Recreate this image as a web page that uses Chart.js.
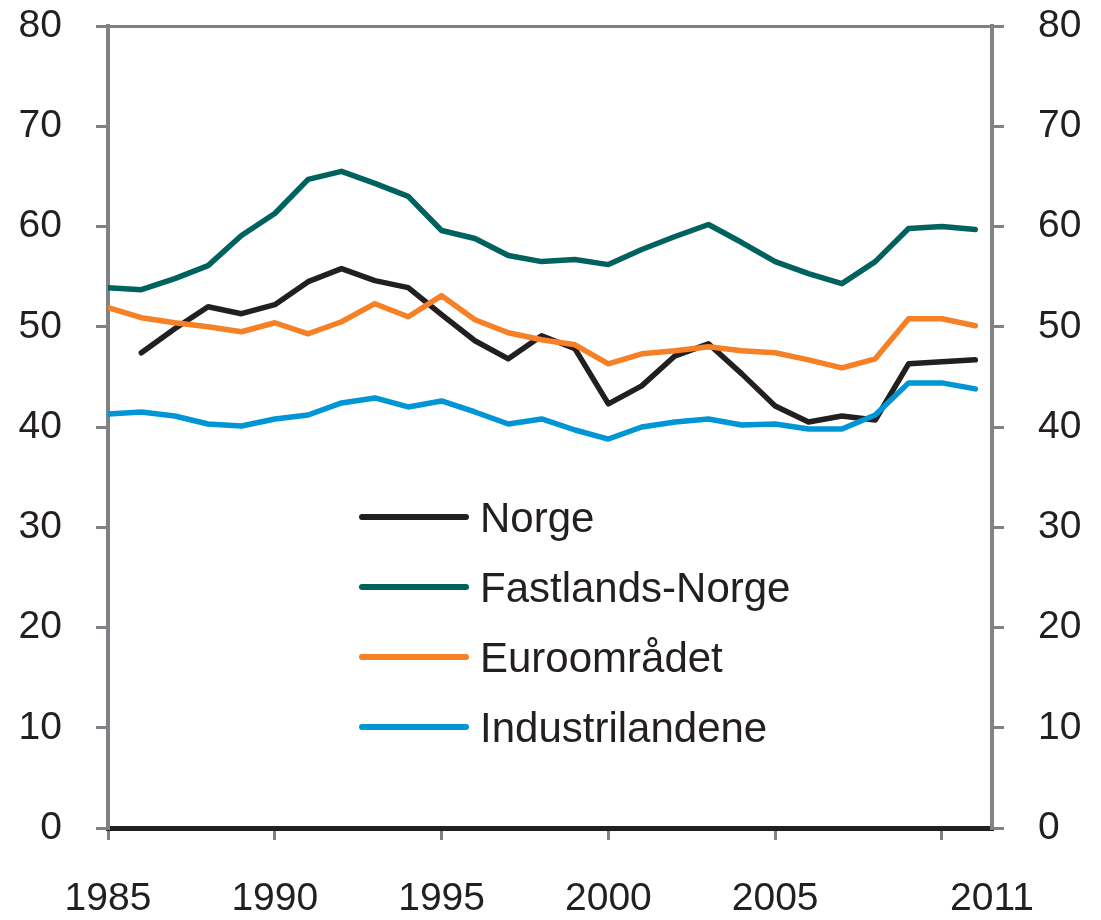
<!DOCTYPE html>
<html>
<head>
<meta charset="utf-8">
<script src="https://cdn.jsdelivr.net/npm/chart.js@4.4.1/dist/chart.umd.min.js"></script>
<style>
    body { margin: 0; background: #fff; }
</style>
</head>
<body>
<canvas id="grafico" width="1101" height="920"></canvas>
<script>
// Data
const anos = [1985, 1986, 1987, 1988, 1989, 1990, 1991, 1992, 1993, 1994, 1995, 1996, 1997, 1998,
    1999, 2000, 2001, 2002, 2003, 2004, 2005, 2006, 2007, 2008, 2009, 2010, 2011];
const norge = [null, 47.4, 49.8, 52.0, 51.3, 52.2, 54.5, 55.8, 54.6, 53.9, 51.2, 48.6, 46.8, 49.1,
    47.8, 42.3, 44.1, 47.1, 48.3, 45.3, 42.1, 40.5, 41.1, 40.7, 46.3, 46.5, 46.7];
const fastland = [53.9, 53.7, 54.8, 56.1, 59.1, 61.3, 64.7, 65.5, 64.3, 63.0, 59.6, 58.8, 57.1, 56.5,
    56.7, 56.2, 57.7, 59.0, 60.2, 58.4, 56.5, 55.3, 54.3, 56.5, 59.8, 60.0, 59.7];
const euro = [51.9, 50.9, 50.4, 50.0, 49.5, 50.4, 49.3, 50.5, 52.3, 51.0, 53.1, 50.7, 49.4, 48.7,
    48.2, 46.3, 47.3, 47.6, 48.0, 47.6, 47.4, 46.7, 45.9, 46.8, 50.8, 50.8, 50.1];
const industri = [41.3, 41.5, 41.1, 40.3, 40.1, 40.8, 41.2, 42.4, 42.9, 42.0, 42.6, 41.5, 40.3, 40.8,
    39.7, 38.8, 40.0, 40.5, 40.8, 40.2, 40.3, 39.8, 39.8, 41.2, 44.4, 44.4, 43.8];
const yTicks = [0, 10, 20, 30, 40, 50, 60, 70, 80];
const xTicks = [1985, 1990, 1995, 2000, 2005, 2010, 2011.5];
const xTickLabels = ['1985', '1990', '1995', '2000', '2005', '', '2011'];

const cinza = '#808184';
const texto = '#231f20';
const fonteEixo = { family: 'Liberation Sans', size: 39 };

function pontos(valores) {
    return anos.map(function (ano, i) {
        return { x: ano, y: valores[i] };
    });
}

// sem padding extra por causa dos rotulos
function semPadding(s) {
    s.paddingTop = 0;
    s.paddingBottom = 0;
    s.paddingLeft = 0;
    s.paddingRight = 0;
}

// legenda desenhada dentro do grafico
const legendaInterna = {
    id: 'legendaInterna',
    afterDraw(chart) {
        const ctx = chart.ctx;
        ctx.save();
        chart.data.datasets.forEach(function (ds, i) {
            const y = 517 + i * 70;
            ctx.strokeStyle = ds.borderColor;
            ctx.lineWidth = 6;
            ctx.lineCap = 'round';
            ctx.beginPath();
            ctx.moveTo(362, y);
            ctx.lineTo(466, y);
            ctx.stroke();
            ctx.fillStyle = texto;
            ctx.font = '42px "Liberation Sans"';
            ctx.textBaseline = 'alphabetic';
            ctx.fillText(ds.label, 480, y + 15);
        });
        ctx.restore();
    }
};

function eixoY(posicao, largura) {
    return {
        type: 'linear',
        position: posicao,
        min: 0,
        max: 80,
        afterBuildTicks: function (s) { s.ticks = yTicks.map(v => ({ value: v })); },
        afterFit: function (s) { s.width = largura; semPadding(s); },
        border: { display: true, color: cinza, width: 4 },
        grid: { drawOnChartArea: false, drawTicks: true, tickLength: 12, color: cinza, lineWidth: 3 },
        ticks: { color: texto, font: fonteEixo, padding: 34 }
    };
}

new Chart(document.getElementById('grafico'), {
    type: 'line',
    data: {
        datasets: [
            { label: 'Norge', data: pontos(norge), borderColor: '#231f20', order: 3 },
            { label: 'Fastlands-Norge', data: pontos(fastland), borderColor: '#00625f', order: 2 },
            { label: 'Euroområdet', data: pontos(euro), borderColor: '#f58025', order: 1 },
            { label: 'Industrilandene', data: pontos(industri), borderColor: '#0096d6', order: 0 }
        ]
    },
    options: {
        responsive: false,
        animation: false,
        layout: { padding: 0 },
        elements: {
            point: { radius: 0 },
            line: { borderWidth: 5.5, tension: 0, borderJoinStyle: 'round', borderCapStyle: 'round' }
        },
        plugins: {
            legend: { display: false },
            tooltip: { enabled: false }
        },
        scales: {
            x: {
                type: 'linear',
                position: 'bottom',
                min: 1985,
                max: 2011.5,
                afterBuildTicks: function (s) { s.ticks = xTicks.map(v => ({ value: v })); },
                afterFit: function (s) { s.height = 92; semPadding(s); },
                border: { display: true, color: texto, width: 5 },
                grid: {
                    drawOnChartArea: false,
                    drawTicks: true,
                    tickLength: 12,
                    lineWidth: 3,
                    color: function (c) { return c.index === xTicks.length - 1 ? 'rgba(0,0,0,0)' : cinza; }
                },
                ticks: {
                    color: texto,
                    font: fonteEixo,
                    padding: 36,
                    autoSkip: false,
                    maxRotation: 0,
                    callback: function (v, i) { return xTickLabels[i]; }
                }
            },
            xTopo: {
                type: 'linear',
                position: 'top',
                min: 1985,
                max: 2011.5,
                afterFit: function (s) { s.height = 26; semPadding(s); },
                border: { display: true, color: cinza, width: 3 },
                grid: { display: false },
                ticks: { display: false }
            },
            y: eixoY('left', 108),
            y2: eixoY('right', 109)
        }
    },
    plugins: [legendaInterna]
});
</script>
</body>
</html>
